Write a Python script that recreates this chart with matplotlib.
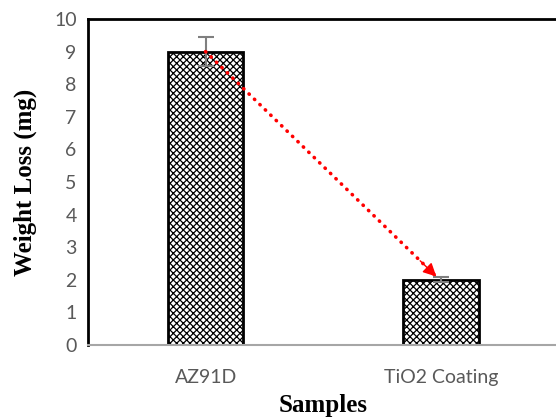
import matplotlib.pyplot as plt

samples = ['AZ91D', 'TiO2 Coating']
weight_loss = [9.0, 2.0]
errors = [0.45, 0.08]
y_ticks = [0, 1, 2, 3, 4, 5, 6, 7, 8, 9, 10]

plt.rcParams['hatch.linewidth'] = 0.9
fig = plt.figure(figsize=(5.56, 4.19), dpi=100)
ax = fig.add_axes([0.158, 0.1766, 0.847, 0.778])

x = [0, 1]
ax.bar(x, weight_loss, width=0.32, color='white', edgecolor='black',
       linewidth=2, hatch='xxxxx', zorder=2)
ax.errorbar(x, weight_loss, yerr=errors, fmt='none', ecolor='#7f7f7f',
            elinewidth=1.5, capsize=6, capthick=1.5, zorder=3)

# dotted red arrow between the bar tops
start = (x[0], weight_loss[0])
end = (x[1] - 0.02, weight_loss[1] + 0.1)
ax.plot([start[0], end[0]], [start[1], end[1]], color='red',
        linestyle=(0, (0.1, 2.0)), linewidth=2.6, dash_capstyle='round', zorder=4)
f = 0.93
head_base = (start[0] + f * (end[0] - start[0]), start[1] + f * (end[1] - start[1]))
ax.annotate('', xy=end, xytext=head_base,
            arrowprops=dict(arrowstyle='-|>', color='red', linewidth=1,
                            mutation_scale=20, shrinkA=0, shrinkB=0),
            zorder=5)

ax.set_xlim(-0.5, 1.5)
ax.set_ylim(0, 10)
ax.set_yticks(y_ticks)
ax.set_xticks(x)
ax.set_xticklabels(samples)
ax.tick_params(axis='both', length=0, labelsize=14, colors='#595959', pad=8)
for lab in ax.get_xticklabels() + ax.get_yticklabels():
    lab.set_family('Lato')
ax.tick_params(axis='x', pad=17)

ax.spines['right'].set_visible(False)
ax.spines['left'].set_linewidth(2)
ax.spines['top'].set_linewidth(2)
ax.spines['bottom'].set_color('#a6a6a6')
ax.spines['bottom'].set_linewidth(1.5)

ax.set_xlabel('Samples', family='Liberation Serif', fontweight='bold',
              fontsize=18, labelpad=6)
ax.set_ylabel('Weight Loss (mg)', family='Liberation Serif', fontweight='bold',
              fontsize=18, labelpad=12)

fig.savefig('out.png', dpi=100)
